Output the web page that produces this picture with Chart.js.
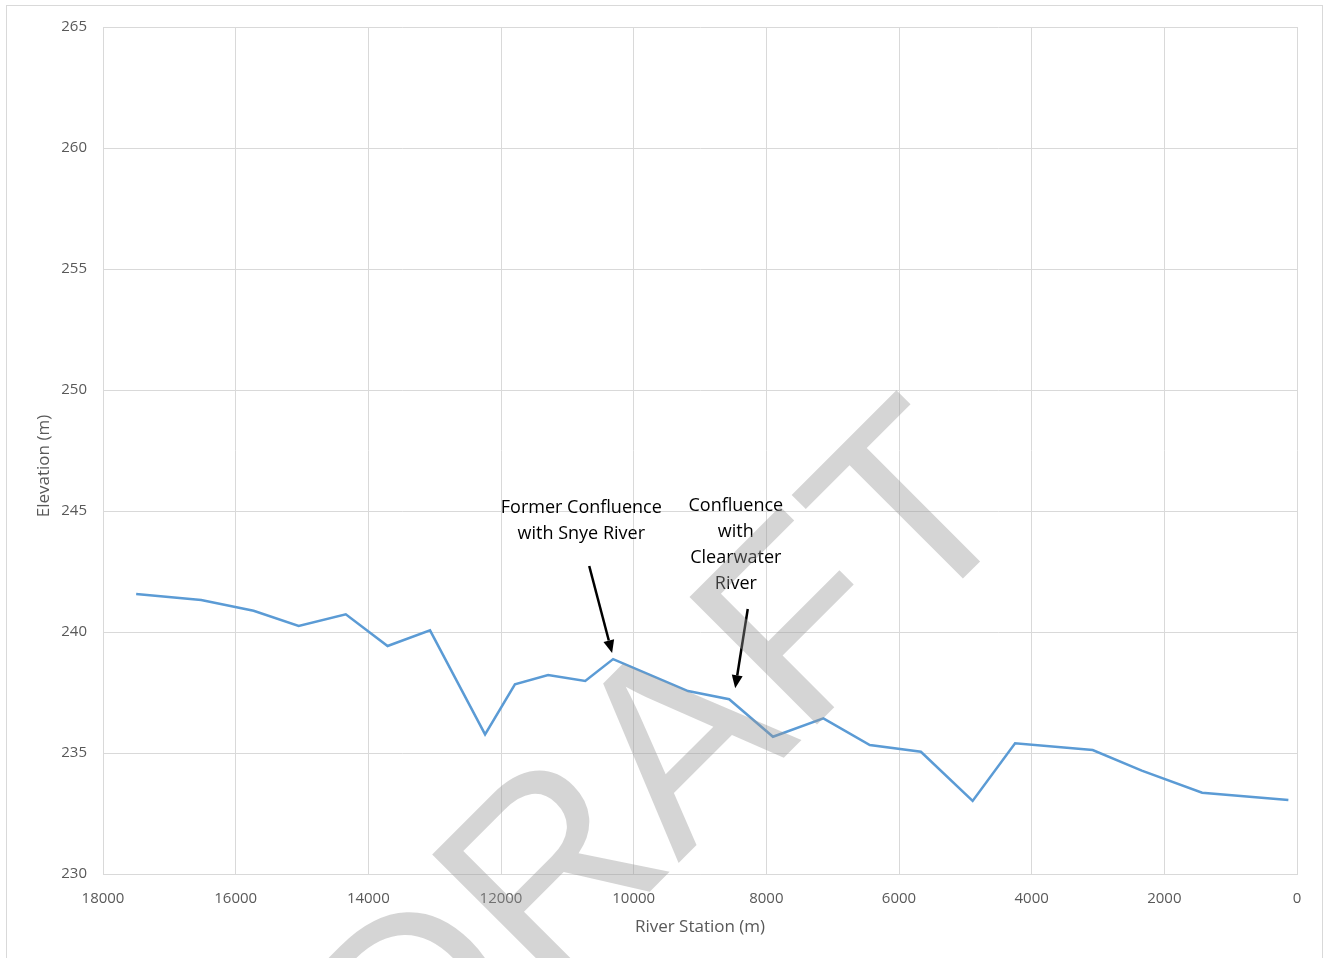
<!DOCTYPE html>
<html>
<head>
<meta charset="utf-8">
<title>River Profile</title>
<script src="https://cdn.jsdelivr.net/npm/chart.js@4/dist/chart.umd.min.js"></script>
<style>
  html, body { margin: 0; padding: 0; background: #fff; }
  #wrap { position: absolute; left: 0; top: 0; width: 1323px; height: 958px; }
</style>
</head>
<body>
<div id="wrap"><canvas id="profileChart"></canvas></div>
<script>
// River station (m) and thalweg elevation (m), upstream to downstream
const stations = [17500, 16520, 15730, 15050, 14340, 13710, 13070, 12240, 11790, 11290,
                  10730, 10310, 9180, 8560, 7900, 7140, 6440, 5670, 4890, 4250,
                  3080, 2340, 1430, 130];
const elevations = [241.57, 241.32, 240.88, 240.25, 240.73, 239.42, 240.07, 235.77, 237.84, 238.22,
                    237.98, 238.88, 237.56, 237.22, 235.67, 236.43, 235.33, 235.05, 233.02, 235.4,
                    235.12, 234.27, 233.36, 233.06];

// Callouts: text lines and the station each arrow points at
const snyeLabel = ['Former Confluence', 'with Snye River'];
const clearwaterLabel = ['Confluence', 'with', 'Clearwater', 'River'];
const snyeStation = 10310;
const clearwaterStation = 8560;

const yTitle = 'Elevation (m)';
const watermarkText = 'DRAFT';

const FONT = '"Open Sans", "Noto Sans", sans-serif';

// Light frame around the whole chart
const framePlugin = {
  id: 'frame',
  beforeDraw(chart) {
    const ctx = chart.ctx;
    ctx.save();
    ctx.fillStyle = '#fff';
    ctx.fillRect(0, 0, chart.width, chart.height);
    ctx.strokeStyle = '#d9d9d9';
    ctx.lineWidth = 1;
    ctx.strokeRect(6.5, 5.5, 1316, 1000);
    ctx.restore();
  },
  afterDraw(chart) {
    // vertical axis title, sitting a little below the middle of the plot
    const ctx = chart.ctx;
    ctx.save();
    ctx.translate(44, 466);
    ctx.rotate(-Math.PI / 2);
    ctx.font = '17px ' + FONT;
    ctx.fillStyle = '#595959';
    ctx.textAlign = 'center';
    ctx.textBaseline = 'middle';
    ctx.fillText(yTitle, 0, 0);
    ctx.restore();
  }
};

function drawArrow(ctx, x1, y1, x2, y2) {
  const ang = Math.atan2(y2 - y1, x2 - x1);
  const head = 13;
  const half = 5.5;
  const bx = x2 - head * Math.cos(ang);
  const by = y2 - head * Math.sin(ang);
  ctx.beginPath();
  ctx.moveTo(x1, y1);
  ctx.lineTo(bx, by);
  ctx.stroke();
  ctx.beginPath();
  ctx.moveTo(x2, y2);
  ctx.lineTo(bx + half * Math.cos(ang + Math.PI / 2), by + half * Math.sin(ang + Math.PI / 2));
  ctx.lineTo(bx + half * Math.cos(ang - Math.PI / 2), by + half * Math.sin(ang - Math.PI / 2));
  ctx.closePath();
  ctx.fill();
}

const calloutPlugin = {
  id: 'callouts',
  afterDatasetsDraw(chart) {
    const ctx = chart.ctx;
    const xs = chart.scales.x;
    const ys = chart.scales.y;
    ctx.save();
    ctx.fillStyle = '#000';
    ctx.strokeStyle = '#000';
    ctx.lineWidth = 2.5;
    ctx.font = '18px ' + FONT;
    ctx.textAlign = 'center';
    ctx.textBaseline = 'middle';

    // Snye River callout
    const sx = xs.getPixelForValue(10790);
    snyeLabel.forEach((t, i) => ctx.fillText(t, sx, 508 + i * 26));
    const sTip = elevations[stations.indexOf(snyeStation)];
    drawArrow(ctx, xs.getPixelForValue(10670), 566,
              xs.getPixelForValue(snyeStation) - 1, ys.getPixelForValue(sTip) - 6);

    // Clearwater River callout
    const cx = xs.getPixelForValue(8460);
    clearwaterLabel.forEach((t, i) => ctx.fillText(t, cx, 506 + i * 26));
    const cTip = elevations[stations.indexOf(clearwaterStation)];
    drawArrow(ctx, xs.getPixelForValue(8280), 609,
              xs.getPixelForValue(clearwaterStation) + 6, ys.getPixelForValue(cTip) - 11);
    ctx.restore();
  }
};

// Big translucent watermark laid over everything
const watermarkPlugin = {
  id: 'watermark',
  afterDraw(chart) {
    const ctx = chart.ctx;
    ctx.save();
    ctx.rotate(-Math.PI / 4);
    ctx.font = '262px "Liberation Sans", Arial, sans-serif';
    ctx.fillStyle = 'rgba(150,150,150,0.4)';
    ctx.textAlign = 'right';
    ctx.textBaseline = 'alphabetic';
    ctx.fillText(watermarkText, 364, 1090);
    ctx.restore();
  }
};

new Chart(document.getElementById('profileChart'), {
  type: 'line',
  data: {
    datasets: [{
      label: 'Thalweg',
      data: stations.map((s, i) => ({ x: s, y: elevations[i] })),
      borderColor: '#5b9bd5',
      borderWidth: 2.5,
      pointRadius: 0,
      tension: 0,
      fill: false
    }]
  },
  options: {
    responsive: true,
    maintainAspectRatio: false,
    animation: false,
    layout: { padding: { left: 0, right: 26, top: 27, bottom: 0 } },
    plugins: {
      legend: { display: false },
      tooltip: { enabled: false }
    },
    scales: {
      x: {
        type: 'linear',
        reverse: true,
        min: 0,
        max: 18000,
        afterFit(scale) { scale.height = 84; },
        grid: { color: '#d9d9d9', drawTicks: false },
        border: { color: '#d9d9d9' },
        ticks: {
          stepSize: 2000,
          padding: 16,
          color: '#595959',
          font: { family: FONT, size: 15 },
          maxRotation: 0,
          callback: v => String(v)
        },
        title: {
          display: true,
          text: 'River Station (m)',
          color: '#595959',
          font: { family: FONT, size: 17 },
          padding: { top: 0, bottom: 21 }
        }
      },
      y: {
        min: 230,
        max: 265,
        afterFit(scale) { scale.width = 103; },
        grid: { color: '#d9d9d9', drawTicks: false },
        border: { color: '#d9d9d9' },
        ticks: {
          stepSize: 5,
          padding: 16,
          color: '#595959',
          font: { family: FONT, size: 15 }
        }
      }
    }
  },
  plugins: [framePlugin, calloutPlugin, watermarkPlugin]
});
</script>
</body>
</html>
